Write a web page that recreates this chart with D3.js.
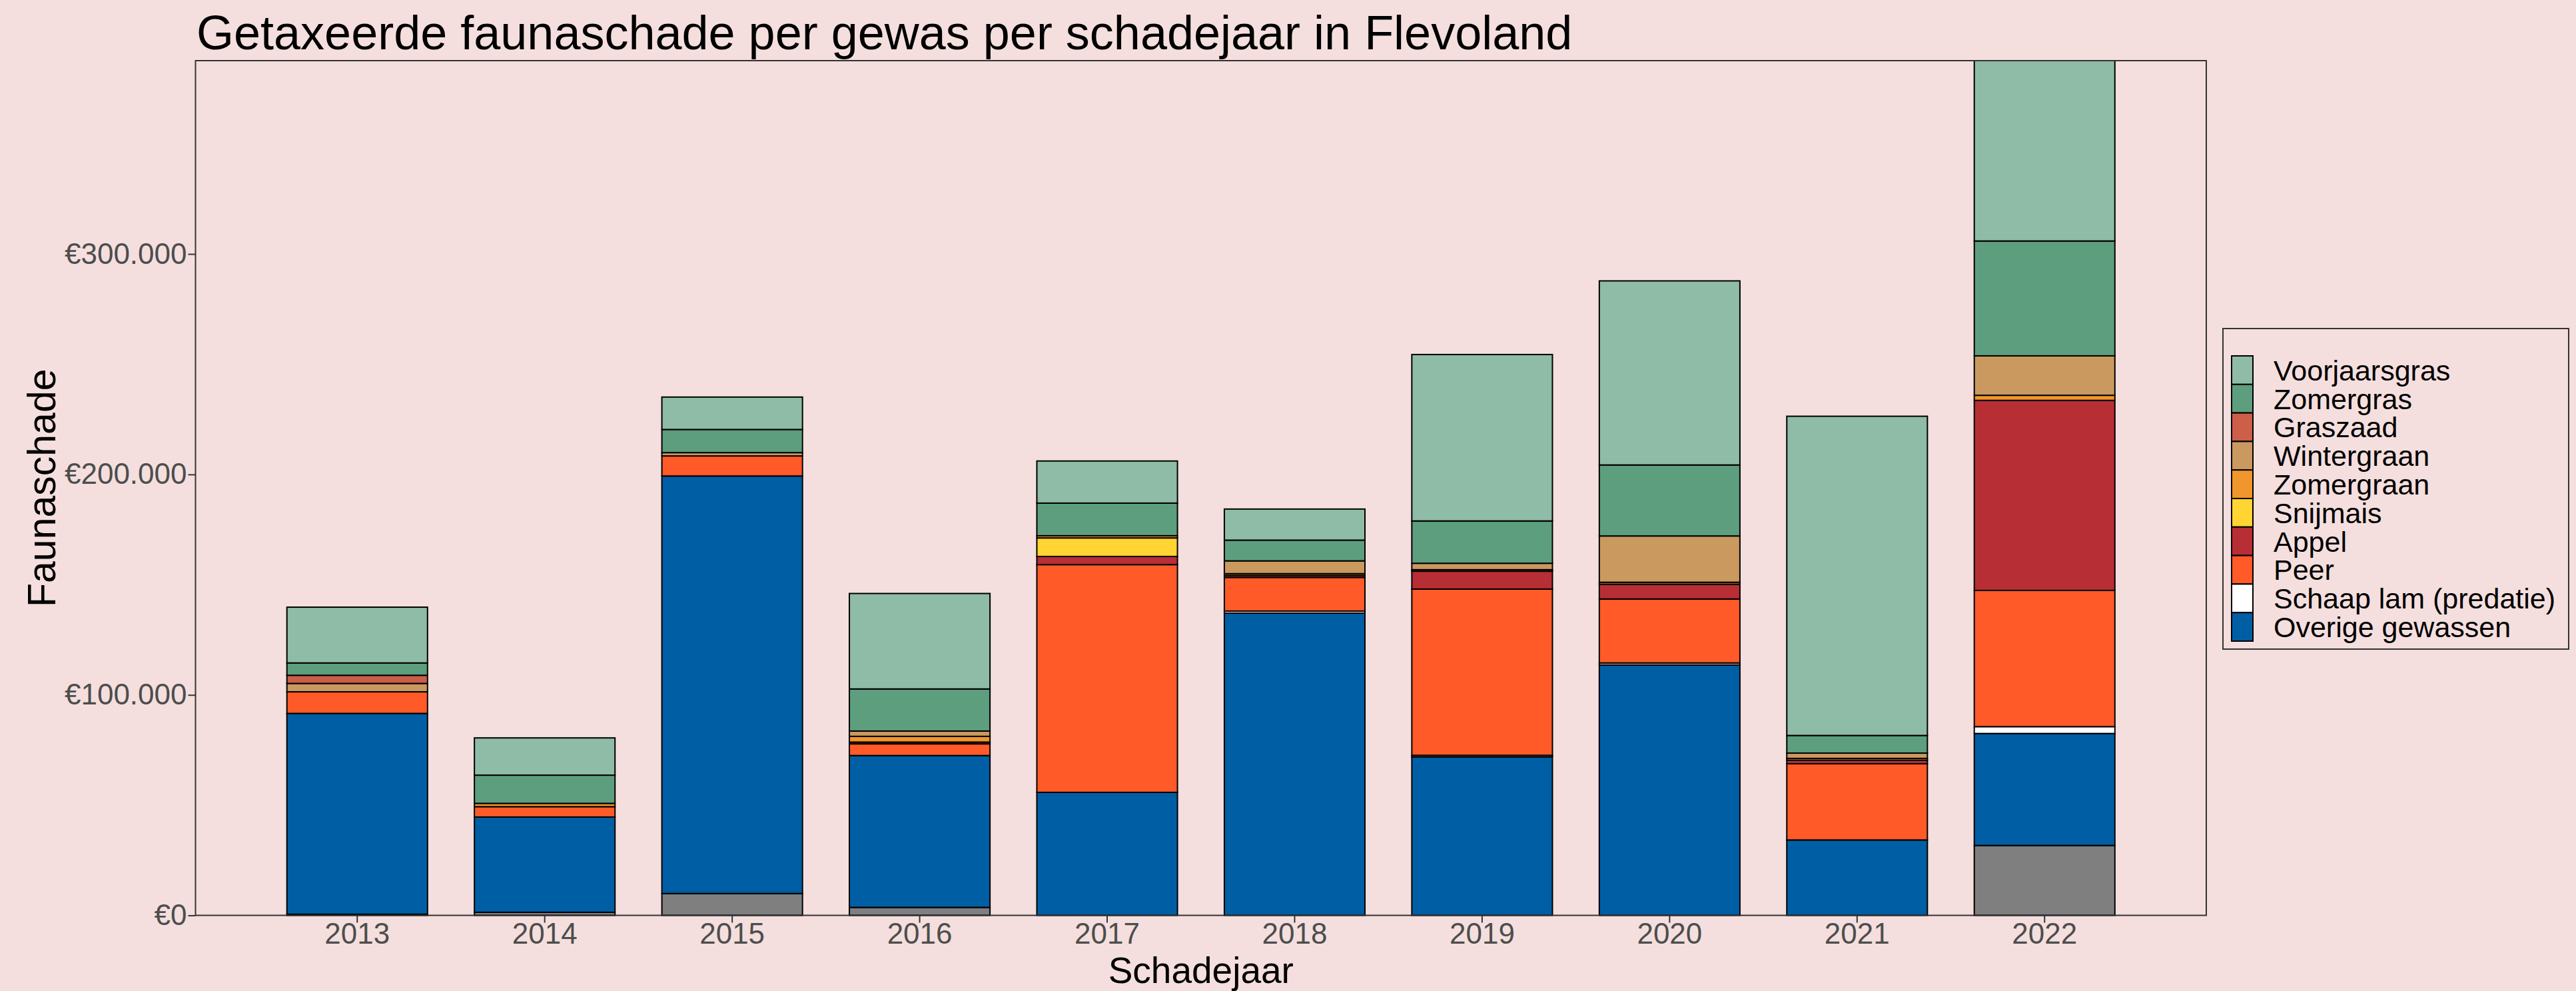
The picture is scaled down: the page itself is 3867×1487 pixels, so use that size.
<!DOCTYPE html>
<html>
<head>
<meta charset="utf-8">
<script src="https://cdn.jsdelivr.net/npm/d3@7/dist/d3.min.js"></script>
<style>
  body { margin: 0; background: #F4DFDE; }
  text { font-family: "Liberation Sans", Arial, sans-serif; }
</style>
</head>
<body>
<svg id="vis" width="3867" height="1487"></svg>
<script>
// Data (bedragen in euro's)
const jaren = [2013, 2014, 2015, 2016, 2017, 2018, 2019, 2020, 2021, 2022];

// stapelvolgorde: onderaan eerst
const gewassen = ["NA", "Overige gewassen", "Schaap lam (predatie)", "Peer", "Appel",
  "Snijmais", "Zomergraan", "Wintergraan", "Graszaad", "Zomergras", "Voorjaarsgras"];

const onbekend      = [500, 1400, 9900, 3600, 0, 0, 0, 0, 0, 31700];
const overige       = [91100, 43200, 189400, 68900, 55800, 137100, 71900, 113600, 34200, 50800];
const schaapLam     = [0, 0, 0, 0, 0, 900, 700, 900, 0, 3100];
const peer          = [9800, 4700, 9100, 5300, 103300, 15300, 75400, 29000, 34600, 61800];
const appel         = [0, 0, 0, 800, 3700, 900, 8100, 6700, 1600, 86200];
const snijmais      = [0, 0, 0, 0, 8400, 0, 0, 0, 0, 0];
const zomergraan    = [0, 1500, 0, 2600, 1000, 800, 700, 900, 800, 2300];
const wintergraan   = [3800, 0, 1500, 2400, 0, 5800, 2900, 21000, 2400, 17900];
const graszaad      = [3700, 0, 0, 0, 0, 0, 0, 0, 0, 0];
const zomergras     = [5600, 12800, 10500, 19100, 14800, 9400, 19200, 32200, 8000, 52100];
const voorjaarsgras = [25300, 16900, 14700, 43300, 19100, 14100, 75500, 83500, 144800, 81800];

const legendaVolgorde = ["Voorjaarsgras", "Zomergras", "Graszaad", "Wintergraan", "Zomergraan",
  "Snijmais", "Appel", "Peer", "Schaap lam (predatie)", "Overige gewassen"];

const yTicks = [0, 100000, 200000, 300000];

const kleuren = {
  "NA": "#7F7F7F",
  "Overige gewassen": "#005EA4",
  "Schaap lam (predatie)": "#FFFFFF",
  "Peer": "#FF5A28",
  "Appel": "#B82E35",
  "Snijmais": "#FFD433",
  "Zomergraan": "#F0962C",
  "Wintergraan": "#C9995F",
  "Graszaad": "#CD5E48",
  "Zomergras": "#5D9E7E",
  "Voorjaarsgras": "#8EBCA6"
};

// tabel voor d3.stack
const reeksen = [onbekend, overige, schaapLam, peer, appel, snijmais, zomergraan,
  wintergraan, graszaad, zomergras, voorjaarsgras];
const tabel = jaren.map((jaar, i) => {
  const rij = { jaar: jaar };
  gewassen.forEach((g, k) => { rij[g] = reeksen[k][i]; });
  return rij;
});

const SVG = d3.select("#vis");
const paneel = { left: 293.5, right: 3312, top: 91, bottom: 1373.5 };

SVG.append("rect")
  .attr("width", 3867).attr("height", 1487)
  .attr("fill", "#F4DFDE");

const stapels = d3.stack().keys(gewassen)(tabel);
const totaal = d3.max(tabel, d => d3.sum(gewassen, g => d[g]));

const x = d3.scaleBand()
  .domain(jaren)
  .range([paneel.left, paneel.right])
  .paddingInner(0.25)
  .paddingOuter(0.4875);

const y = d3.scaleLinear()
  .domain([0, totaal])
  .range([paneel.bottom, paneel.top]);

const euro = d3.formatLocale({
  decimal: ",", thousands: ".", grouping: [3], currency: ["€", ""]
}).format("$,.0f");

// Balken
SVG.append("g")
  .selectAll("g")
  .data(stapels)
  .join("g")
  .attr("fill", d => kleuren[d.key])
  .selectAll("rect")
  .data(d => d.filter(s => s[1] - s[0] > 0))
  .join("rect")
  .attr("x", d => x(d.data.jaar))
  .attr("width", x.bandwidth())
  .attr("y", d => y(d[1]))
  .attr("height", d => y(d[0]) - y(d[1]))
  .attr("stroke", "#000")
  .attr("stroke-width", 2);

// Paneelrand
SVG.append("rect")
  .attr("x", paneel.left).attr("y", paneel.top)
  .attr("width", paneel.right - paneel.left)
  .attr("height", paneel.bottom - paneel.top)
  .attr("fill", "none")
  .attr("stroke", "#333")
  .attr("stroke-width", 2);

// Assen
const xAs = SVG.append("g")
  .attr("transform", `translate(0,${paneel.bottom})`)
  .call(d3.axisBottom(x).tickSize(11).tickPadding(0));
const yAs = SVG.append("g")
  .attr("transform", `translate(${paneel.left},0)`)
  .call(d3.axisLeft(y).tickValues(yTicks).tickFormat(euro).tickSize(11).tickPadding(2));

[xAs, yAs].forEach(as => {
  as.select(".domain").remove();
  as.selectAll("line").attr("stroke", "#333").attr("stroke-width", 2);
  as.selectAll("text")
    .attr("fill", "#4D4D4D")
    .style("font-size", "44px")
    .style("font-family", '"Liberation Sans", Arial, sans-serif');
});

// Titels
SVG.append("text")
  .attr("x", 295).attr("y", 74)
  .style("font-size", "72px")
  .attr("fill", "#000")
  .text("Getaxeerde faunaschade per gewas per schadejaar in Flevoland");

SVG.append("text")
  .attr("x", (paneel.left + paneel.right) / 2).attr("y", 1475)
  .attr("text-anchor", "middle")
  .style("font-size", "55px")
  .text("Schadejaar");

SVG.append("text")
  .attr("transform", `translate(83,${(paneel.top + paneel.bottom) / 2}) rotate(-90)`)
  .attr("text-anchor", "middle")
  .style("font-size", "59px")
  .text("Faunaschade");

// Legenda
const legenda = SVG.append("g");
legenda.append("rect")
  .attr("x", 3337).attr("y", 493)
  .attr("width", 519).attr("height", 481)
  .attr("fill", "#F4DFDE")
  .attr("stroke", "#333")
  .attr("stroke-width", 2);

const rijHoogte = 42.8;
const items = legenda.selectAll("g.item")
  .data(legendaVolgorde)
  .join("g")
  .attr("class", "item")
  .attr("transform", (d, i) => `translate(3350,${534 + i * rijHoogte})`);

items.append("rect")
  .attr("width", 32).attr("height", rijHoogte)
  .attr("fill", d => kleuren[d])
  .attr("stroke", "#000")
  .attr("stroke-width", 2);

items.append("text")
  .attr("x", 63).attr("y", rijHoogte / 2)
  .attr("dy", "0.36em")
  .style("font-size", "43px")
  .text(d => d);
</script>
</body>
</html>
